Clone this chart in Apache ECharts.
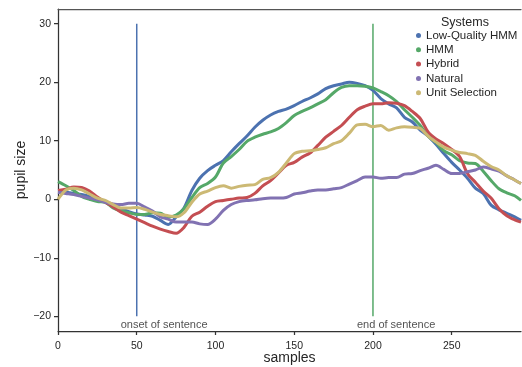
<!DOCTYPE html>
<html>
<head>
<meta charset="utf-8">
<script src="https://cdn.jsdelivr.net/npm/echarts@6/dist/echarts.min.js"></script>
<style>
  html, body { margin: 0; padding: 0; background: #fff; }
  #chart { width: 522px; height: 367px; }
</style>
</head>
<body>
<div id="chart"></div>
<script>
// sample positions (x) shared by all curves
const samples = [0, 5, 10, 15, 20, 25, 30, 35, 40, 45, 50, 55, 60, 65, 70, 75, 80, 85, 90, 95,
  100, 105, 110, 115, 120, 125, 130, 135, 140, 145, 150, 155, 160, 165, 170, 175, 180, 185, 190, 195,
  200, 205, 210, 215, 220, 225, 230, 235, 240, 245, 250, 255, 260, 265, 270, 275, 280, 285, 290, 294];

const lowQualityHmm = [1.2, 1.2, 1.0, 0.8, 0.5, 0.0, -0.4, -1.0, -1.6, -2.1, -2.5, -2.7, -2.9, -3.6, -4.3, -3.0, -1.5, 1.5, 3.6, 4.9,
  5.8, 6.6, 8.1, 9.5, 10.8, 12.3, 13.5, 14.4, 15.0, 15.4, 16.0, 16.7, 17.3, 18.0, 18.9, 19.4, 19.7, 20.0, 19.8, 19.4,
  18.6, 17.2, 16.3, 15.6, 14.0, 13.2, 11.8, 10.8, 9.4, 7.8, 6.3, 5.0, 3.6, 1.9, 1.0, -1.0, -1.8, -2.4, -3.0, -3.6];

const hmm = [3.0, 2.3, 1.5, 0.5, 0.0, -0.4, -0.5, -1.5, -2.0, -2.3, -2.6, -2.6, -2.3, -2.4, -3.0, -2.7, -1.6, 0.3, 2.0, 2.7,
  3.8, 6.2, 7.3, 8.5, 9.9, 10.6, 11.1, 11.5, 12.1, 13.1, 14.3, 15.0, 15.6, 16.3, 17.0, 18.2, 19.1, 19.4, 19.4, 19.3,
  19.0, 18.4, 17.7, 16.7, 15.3, 14.0, 12.6, 10.8, 9.7, 8.3, 7.6, 6.6, 6.2, 6.1, 4.8, 3.2, 1.8, 1.1, 0.6, -0.2];

const hybrid = [1.5, 1.7, 2.1, 2.0, 1.4, 0.4, -0.5, -1.3, -2.2, -2.8, -3.4, -4.0, -4.6, -5.1, -5.5, -5.8, -4.8, -2.9, -2.2, -1.2,
  -0.4, -0.2, 0.0, 0.2, 0.3, 1.0, 2.3, 3.2, 4.5, 5.8, 6.3, 7.2, 7.9, 9.2, 10.6, 11.6, 12.6, 14.0, 15.3, 15.9,
  16.3, 16.3, 16.5, 16.4, 16.0, 15.0, 13.8, 11.5, 10.3, 9.5, 8.5, 7.3, 4.4, 2.9, 1.4, 0.2, -1.6, -2.8, -3.5, -3.9];

const natural = [1.2, 1.0, 0.8, 0.5, 0.2, -0.1, -0.5, -0.8, -0.9, -0.7, -0.7, -1.3, -2.0, -3.0, -3.4, -3.9, -3.9, -3.9, -4.2, -4.3,
  -3.4, -1.9, -0.9, -0.4, -0.2, -0.1, 0.1, 0.2, 0.2, 0.3, 0.9, 1.1, 1.4, 1.6, 1.6, 1.8, 2.0, 2.6, 3.2, 3.8,
  3.8, 3.6, 3.7, 3.7, 4.3, 4.4, 4.9, 5.3, 5.8, 5.1, 4.4, 4.4, 4.7, 5.0, 5.5, 5.2, 4.8, 4.0, 3.3, 2.7];

const unitSelection = [0.0, 1.6, 1.9, 1.6, 0.9, 0.2, -0.2, -0.9, -1.5, -1.5, -1.4, -1.7, -2.2, -2.6, -2.8, -3.0, -2.3, -0.5, 0.9, 1.4,
  2.0, 2.3, 1.9, 2.2, 2.4, 2.5, 3.4, 3.7, 4.6, 6.2, 7.8, 8.2, 8.3, 8.5, 8.8, 9.5, 10.0, 11.3, 12.7, 12.8,
  12.4, 12.6, 11.8, 12.2, 12.4, 12.3, 12.1, 10.8, 9.8, 8.9, 8.4, 8.0, 7.8, 7.5, 6.5, 5.6, 5.0, 4.0, 3.3, 2.7];

const systemNames = ['Low-Quality HMM', 'HMM', 'Hybrid', 'Natural', 'Unit Selection'];
const systemColors = ['#4c72b0', '#55a868', '#c44e52', '#8172b2', '#ccb974'];
const systemValues = [lowQualityHmm, hmm, hybrid, natural, unitSelection];

// event markers
const eventSamples = [50, 200];
const eventLabels = ['onset of sentence', 'end of sentence'];
const eventColors = ['#4c72b0', '#55a868'];
const eventRange = [-20, 30];

const xTicks = [0, 50, 100, 150, 200, 250];
const yTicks = [-20, -10, 0, 10, 20, 30];

const textColor = '#262626';
const axisColor = '#333';
const fontFamily = '"Liberation Sans", Arial, sans-serif';

const chart = echarts.init(document.getElementById('chart'), null, { renderer: 'canvas' });

const curveSeries = systemNames.map((name, i) => ({
  name: name,
  type: 'line',
  data: samples.map((s, j) => [s, systemValues[i][j]]),
  showSymbol: false,
  smooth: 0.3,
  color: systemColors[i],
  lineStyle: { width: 3, color: systemColors[i] },
  z: 3 + i,
  silent: true,
}));

const eventSeries = eventSamples.map((s, i) => ({
  name: eventLabels[i],
  type: 'line',
  data: [[s, eventRange[0]], [s, eventRange[1]]],
  showSymbol: false,
  symbol: 'none',
  lineStyle: { width: 1.5, color: eventColors[i] },
  z: 2,
  silent: true,
}));

// text under each event line
const eventTextSeries = {
  name: 'eventText',
  type: 'scatter',
  symbolSize: 0,
  data: eventSamples.map((s, i) => ({ value: [s, eventRange[0]], name: eventLabels[i] })),
  label: {
    show: true,
    formatter: p => p.name,
    position: 'bottom',
    align: 'left',
    distance: 3,
    offset: [-16, 0],
    color: textColor,
    fontSize: 11,
    fontFamily: fontFamily,
  },
  z: 10,
  silent: true,
};

const option = {
  animation: false,
  title: {
    text: 'Systems',
    left: 436,
    top: 11,
    textStyle: { color: textColor, fontSize: 12.5, fontWeight: 'normal', fontFamily: fontFamily },
  },
  legend: {
    data: systemNames.map(n => ({ name: n, icon: 'circle' })),
    orient: 'vertical',
    left: 411,
    top: 24,
    itemWidth: 5,
    itemHeight: 5,
    itemGap: 1.3,
    textStyle: { color: textColor, fontSize: 11.5, fontFamily: fontFamily, lineHeight: 13 },
  },
  grid: {
    left: 58,
    right: 1,
    top: 9,
    bottom: 36,
    show: false,
    outerBoundsMode: 'none',
    containLabel: false,
  },
  xAxis: [
    {
      type: 'value',
      min: 0,
      max: 294,
      name: 'samples',
      nameLocation: 'middle',
      nameGap: 20,
      nameMoveOverlap: false,
      nameTextStyle: { color: textColor, fontSize: 14, fontFamily: fontFamily },
      axisLine: { show: true, onZero: false, lineStyle: { color: axisColor, width: 1.25 } },
      axisTick: { show: true, length: 4, customValues: xTicks, lineStyle: { color: axisColor, width: 1.25 } },
      axisLabel: { customValues: xTicks, color: textColor, fontSize: 10.5, fontFamily: fontFamily, margin: 10 },
      splitLine: { show: false },
    },
    {
      type: 'value',
      position: 'top',
      min: 0,
      max: 294,
      axisLine: { show: true, onZero: false, lineStyle: { color: '#555', width: 1.25 } },
      axisTick: { show: false },
      axisLabel: { show: false },
      splitLine: { show: false },
    },
  ],
  yAxis: {
    type: 'value',
    min: -22.5,
    max: 32.5,
    name: 'pupil size',
    nameLocation: 'middle',
    nameGap: 30,
    nameMoveOverlap: false,
    nameTextStyle: { color: textColor, fontSize: 14, fontFamily: fontFamily },
    axisLine: { show: true, onZero: false, lineStyle: { color: axisColor, width: 1.25 } },
    axisTick: { show: true, length: 4, customValues: yTicks, lineStyle: { color: axisColor, width: 1.25 } },
    axisLabel: {
      customValues: yTicks,
      color: textColor,
      fontSize: 10.5,
      fontFamily: fontFamily,
      margin: 7,
      formatter: v => (v < 0 ? '\u2212' + Math.abs(v) : String(v)),
    },
    splitLine: { show: false },
  },
  series: [...eventSeries, ...curveSeries, eventTextSeries],
};

chart.setOption(option);
</script>
</body>
</html>
